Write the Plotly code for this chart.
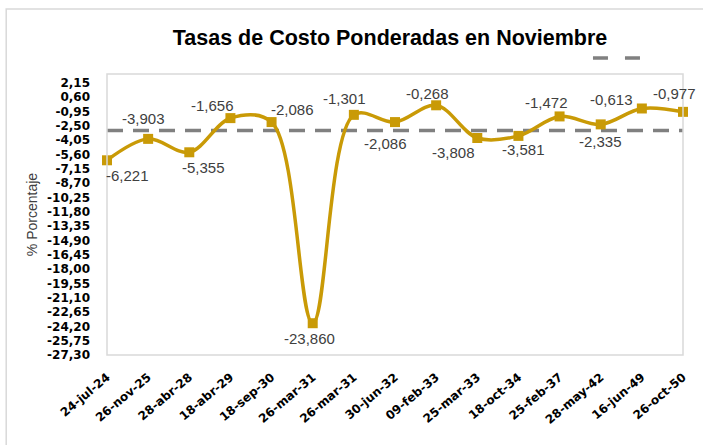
import plotly.graph_objects as go

# fechas y tasas ponderadas (%)
fechas = ["24-jul-24", "26-nov-25", "28-abr-28", "18-abr-29", "18-sep-30",
          "26-mar-31", "26-mar-31", "30-jun-32", "09-feb-33", "25-mar-33",
          "18-oct-34", "25-feb-37", "28-may-42", "16-jun-49", "26-oct-50"]
tasas = [-6.221, -3.903, -5.355, -1.656, -2.086, -23.860, -1.301, -2.086,
         -0.268, -3.808, -3.581, -1.472, -2.335, -0.613, -0.977]
referencia = [-3.0] * len(fechas)
y_ticks = [2.15 - 1.55 * i for i in range(20)]

# desplazamiento de cada etiqueta respecto a su punto (px)
label_dx = [20, -5, 14, -18, 21, -3, -9, -10, -9, -24, 5, -13, 0, -30, -9]
label_dy = [-15, 20, -15, 13, 13, -15, 16, -21, 12, -14, -14, 14, -17, 9, 18]

x_idx = list(range(len(fechas)))
etiquetas = [f"{v:.3f}".replace(".", ",") for v in tasas]
oro = "#C99A06"
gris = "#808080"

fig = go.Figure()

fig.add_trace(go.Scatter(
    x=x_idx, y=referencia, mode="lines", name=" ",
    line=dict(color=gris, width=3.5, dash="16px,10px"),
    showlegend=False, hoverinfo="skip"))

fig.add_trace(go.Scatter(
    x=x_idx, y=tasas, mode="lines+markers",
    line=dict(color=oro, width=3.5, shape="spline", smoothing=1.0),
    marker=dict(symbol="square", size=10, color=oro),
    cliponaxis=False, showlegend=False))

for i, v in enumerate(tasas):
    fig.add_annotation(x=i, y=v, text=etiquetas[i], showarrow=False,
                       xshift=label_dx[i], yshift=label_dy[i],
                       font=dict(family="Liberation Sans", size=15, color="#404040"))

fig.update_layout(
    width=703, height=445,
    margin=dict(l=107, r=20, t=74, b=90),
    paper_bgcolor="white", plot_bgcolor="white",
    font=dict(family="Liberation Sans", color="#000000"),
    title=dict(text="<b>Tasas de Costo Ponderadas en Noviembre</b>",
               x=390 / 703, xanchor="center", y=1 - 37 / 445, yanchor="middle",
               font=dict(size=21.5, color="#000000")),
    showlegend=False,
    shapes=[
        # marco exterior
        dict(type="rect", xref="paper", yref="paper",
             x0=-0.175, x1=1.05, y0=-0.35, y1=1.231,
             line=dict(color="#D9D9D9", width=1.5)),
        # borde del área de trazado
        dict(type="rect", xref="paper", yref="paper",
             x0=0, x1=1, y0=0, y1=1,
             line=dict(color="#D9D9D9", width=1.5)),
        # muestra de leyenda (línea discontinua)
        dict(type="line", xref="paper", yref="paper",
             x0=0.8437, x1=0.9253, y0=1.057, y1=1.057,
             line=dict(color=gris, width=3.5, dash="15px,17px")),
    ],
)

fig.update_xaxes(
    range=[0, 14], tickmode="array", tickvals=x_idx,
    ticktext=[f"<b>{f}</b>" for f in fechas], tickangle=-40,
    tickfont=dict(size=12, family="DejaVu Sans", color="#000000"),
    showgrid=False, zeroline=False, showline=False, ticks="",
    automargin=False, ticklabelstandoff=12)

fig.update_yaxes(
    range=[-27.30, 3.12], tickmode="array", tickvals=y_ticks,
    ticktext=[f"<b>{v:.2f}</b>".replace(".", ",") for v in y_ticks],
    tickfont=dict(size=12, family="DejaVu Sans", color="#000000"),
    showgrid=False, zeroline=False, showline=False, ticks="",
    automargin=False, ticklabelstandoff=16,
    title=dict(text="% Porcentaje", standoff=6,
               font=dict(size=14, color="#404040")))

fig.write_html("out.html", config={"displayModeBar": False},
               post_script="document.body.style.margin='0px';")
